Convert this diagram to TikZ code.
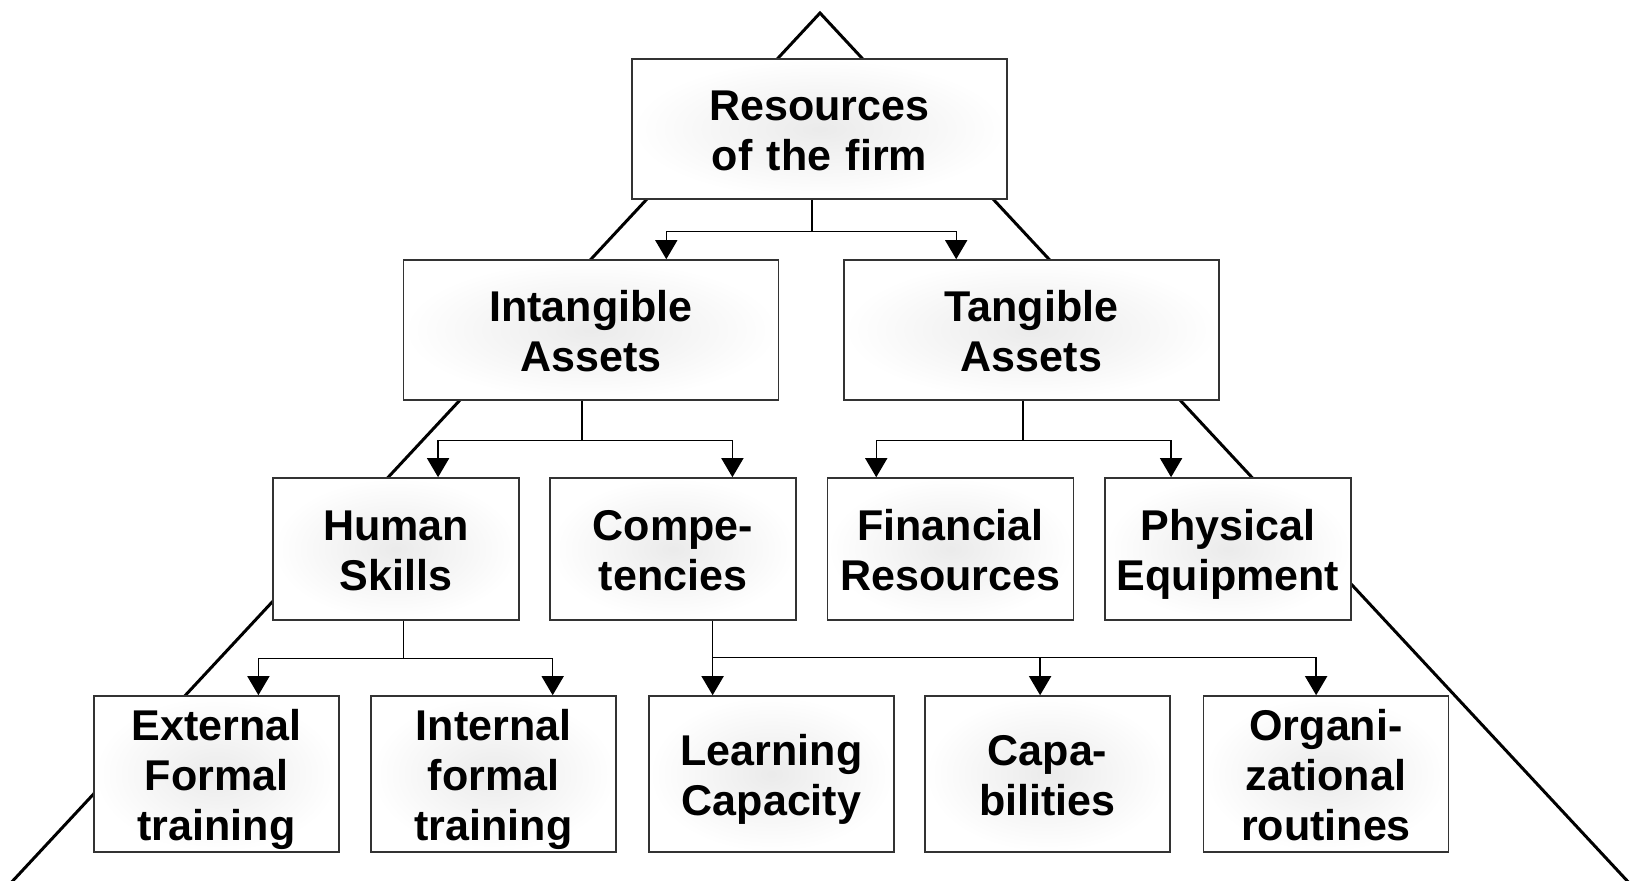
\documentclass[tikz,border=0pt]{standalone}
\usepackage{fontspec}
\setmainfont{Liberation Sans}
\usetikzlibrary{arrows.meta,calc}

\tikzset{
  box/.style={draw=black!80, line width=0.9pt, inner color=black!8, outer color=white,
    align=center, inner sep=0pt, font=\fontsize{24.5}{28.5}\selectfont\bfseries,
    execute at begin node={\rule{0pt}{23.7pt}},
    execute at end node={\rule[-5.2pt]{0pt}{5.2pt}}},
  bigbox/.style={box, minimum width=7.5cm, minimum height=2.8cm, text width=7.2cm},
  midbox/.style={box, minimum width=4.92cm, minimum height=2.84cm, text width=4.7cm},
  lowbox/.style={box, minimum width=4.9cm, minimum height=3.12cm, text width=4.7cm},
  lnk/.style={line width=0.8pt},
  arr/.style={lnk, -{Triangle[width=0.44cm,length=0.38cm]}},
  pyr/.style={line width=1.7pt, line join=miter}
}

\begin{document}
\begin{tikzpicture}[x=0.02cm, y=-0.02cm]
	\useasboundingbox (0,0) rectangle (1630,881);
	\clip (0,0) rectangle (1630,881);
	
	% pyramid behind the boxes
	\draw[pyr] (-5,900) -- (820,13) -- (1645,900);
	
	\node (res) at (819.5,129) [bigbox] {Resources\\of the firm};
	\node (intang) at (591,330) [bigbox] {Intangible\\Assets};
	\node (tang) at (1031.5,330) [bigbox] {Tangible\\Assets};
	
	\node (human) at (396,549) [midbox] {Human\\Skills};
	\node (comp) at (673,549) [midbox] {Compe-\\tencies};
	\node (fin) at (950.5,549) [midbox] {Financial\\Resources};
	\node (phys) at (1228,549) [midbox] {Physical\\Equipment};
	
	\node (ext) at (216.5,774) [lowbox] {External\\Formal\\training};
	\node (int) at (493.5,774) [lowbox] {Internal\\formal\\training};
	\node (learn) at (771.5,774) [lowbox] {Learning\\Capacity};
	\node (capa) at (1047.5,774) [lowbox] {Capa-\\bilities};
	\node (org) at (1326,774) [lowbox] {Organi-\\zational\\routines};
	
	% forks
	\coordinate (f1) at ($(res.south west)!.48!(res.south east)+(0,32)$);
	\draw[lnk] (f1 |- res.south) -- (f1);
	\draw[arr] (f1) -| ($(intang.north west)!.70!(intang.north east)$);
	\draw[arr] (f1) -| ($(tang.north west)!.30!(tang.north east)$);
	
	\coordinate (f2) at ($(intang.south west)!.476!(intang.south east)+(0,40)$);
	\draw[lnk] (f2 |- intang.south) -- (f2);
	\draw[arr] (f2) -| ($(human.north west)!.67!(human.north east)$);
	\draw[arr] (f2) -| ($(comp.north west)!.74!(comp.north east)$);
	
	\coordinate (f3) at ($(tang.south west)!.477!(tang.south east)+(0,40)$);
	\draw[lnk] (f3 |- tang.south) -- (f3);
	\draw[arr] (f3) -| ($(fin.north west)!.20!(fin.north east)$);
	\draw[arr] (f3) -| ($(phys.north west)!.27!(phys.north east)$);
	
	\coordinate (f4) at ($(human.south west)!.53!(human.south east)+(0,38)$);
	\draw[lnk] (f4 |- human.south) -- (f4);
	\draw[arr] (f4) -| ($(ext.north west)!.67!(ext.north east)$);
	\draw[arr] (f4) -| ($(int.north west)!.74!(int.north east)$);
	
	\coordinate (f5) at ($(comp.south west)!.66!(comp.south east)+(0,37)$);
	\draw[arr] (f5 |- comp.south) -- (f5 |- learn.north);
	\draw[arr] (f5) -| ($(capa.north west)!.47!(capa.north east)$);
	\draw[arr] (f5) -| ($(org.north west)!.46!(org.north east)$);
\end{tikzpicture}
\end{document}
